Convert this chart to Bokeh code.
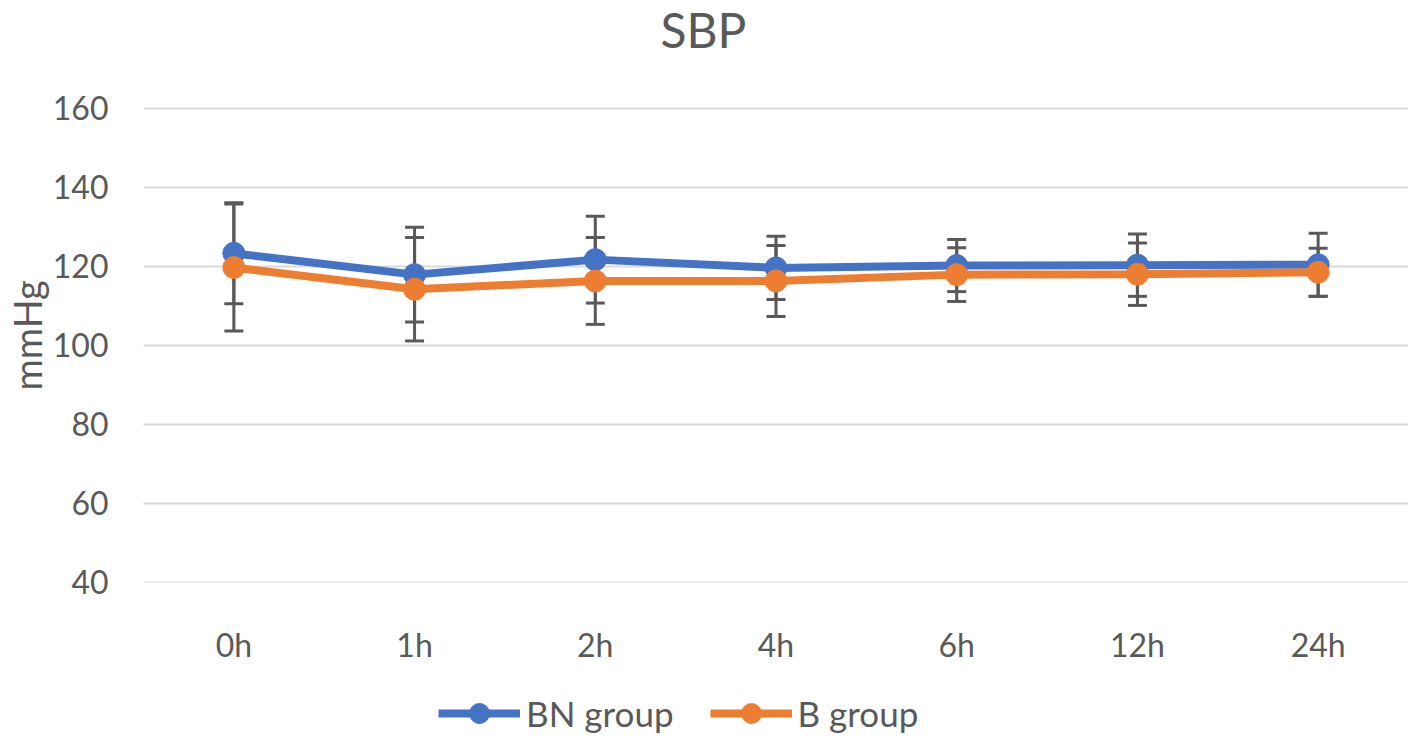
from bokeh.plotting import figure
from bokeh.layouts import column
from bokeh.models import Range1d, Legend, LegendItem, FixedTicker, Label
from bokeh.embed import file_html
from bokeh.resources import INLINE

# ---- data ----
times = ["0h", "1h", "2h", "4h", "6h", "12h", "24h"]
bn_mean = [123.3, 117.9, 121.7, 119.6, 120.2, 120.3, 120.4]
bn_sd = [12.8, 12.0, 11.0, 8.0, 6.6, 7.9, 8.0]
b_mean = [119.7, 114.2, 116.3, 116.3, 117.9, 118.0, 118.5]
b_sd = [16.1, 13.1, 11.0, 9.0, 6.8, 7.9, 6.1]
y_ticks = [40, 60, 80, 100, 120, 140, 160]
series_names = ["BN group", "B group"]

FONT = "Lato"
TXT = "#595959"
BLUE = "#4472C4"
ORANGE = "#ED7D31"
ERR = "#595959"

# main chart: frame extends to the top of the figure; the space above 160 holds the title
p = figure(x_range=times, y_range=Range1d(39.9, 187.35),
           width=1408, height=674,
           frame_width=1265, frame_height=582,
           min_border_left=143, min_border_top=0,
           min_border_right=0, min_border_bottom=92,
           output_backend="svg", toolbar_location=None,
           background_fill_color="white", border_fill_color="white")
p.outline_line_color = None

title = Label(x=560, y=582, x_units="screen", y_units="screen", text="SBP",
              text_font=FONT, text_font_size="48px", text_color=TXT,
              text_align="center", text_baseline="top")
p.add_layout(title)

p.yaxis.ticker = FixedTicker(ticks=y_ticks)
p.yaxis.axis_line_color = None
p.yaxis.major_tick_line_color = None
p.yaxis.minor_tick_line_color = None
p.yaxis.major_label_text_font = FONT
p.yaxis.major_label_text_font_size = "32px"
p.yaxis.major_label_text_color = TXT
p.yaxis.major_label_standoff = 29
p.yaxis.axis_label = "mmHg" + "\u00a0" * 9
p.yaxis.axis_label_text_font = FONT
p.yaxis.axis_label_text_font_size = "38px"
p.yaxis.axis_label_text_font_style = "normal"
p.yaxis.axis_label_text_color = TXT
p.yaxis.axis_label_standoff = 0

p.xaxis.axis_line_color = None
p.xaxis.major_tick_line_color = None
p.xaxis.minor_tick_line_color = None
p.xaxis.major_label_text_font = FONT
p.xaxis.major_label_text_font_size = "32px"
p.xaxis.major_label_text_color = TXT
p.xaxis.major_label_standoff = 36

p.xgrid.grid_line_color = None
p.ygrid.grid_line_color = "#D9D9D9"
p.ygrid.grid_line_width = 2

# error bars (drawn first, beneath the series)
for mean, sd in ((bn_mean, bn_sd), (b_mean, b_sd)):
    lo = [m - s for m, s in zip(mean, sd)]
    hi = [m + s for m, s in zip(mean, sd)]
    p.segment(x0=times, y0=lo, x1=times, y1=hi, line_color=ERR, line_width=3)
    p.scatter(x=times, y=lo, marker="dash", size=19, line_color=ERR, line_width=3)
    p.scatter(x=times, y=hi, marker="dash", size=19, line_color=ERR, line_width=3)

for mean, col in ((bn_mean, BLUE), (b_mean, ORANGE)):
    p.line(times, mean, line_color=col, line_width=8)
    p.scatter(times, mean, size=22, fill_color=col, line_color=col)

# legend strip below the chart
q = figure(x_range=times, y_range=Range1d(0, 1), width=1408, height=64,
           min_border_left=0, min_border_right=0, min_border_top=0, min_border_bottom=0,
           output_backend="svg", toolbar_location=None,
           background_fill_color="white", border_fill_color="white")
q.outline_line_color = None
q.axis.visible = False
q.grid.visible = False
items = []
for name, mean, col in zip(series_names, (bn_mean, b_mean), (BLUE, ORANGE)):
    lr = q.line(times, mean, line_color=col, line_width=8)
    cr = q.scatter(times, mean, size=22, fill_color=col, line_color=col)
    items.append(LegendItem(label=name, renderers=[lr, cr]))

legend = Legend(items=items, orientation="horizontal", location=(295, 0),
                glyph_width=82, glyph_height=50, label_standoff=6,
                spacing=36, padding=0, margin=0,
                label_text_font=FONT, label_text_font_size="35px",
                label_text_color=TXT, border_line_color=None,
                background_fill_alpha=0)
q.add_layout(legend, "center")

layout = column(p, q, spacing=0)
open("out.html", "w").write(file_html(layout, INLINE))
